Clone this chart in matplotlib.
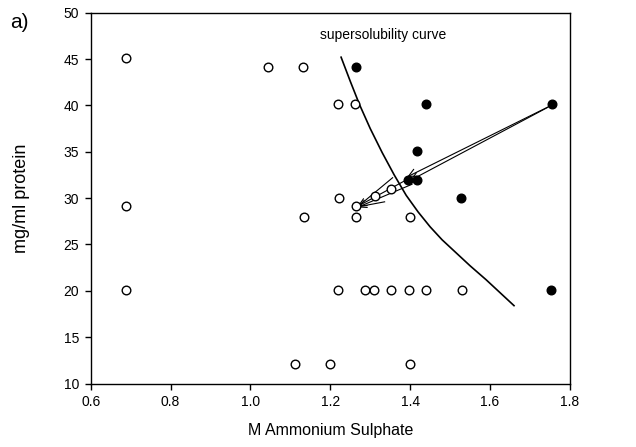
import matplotlib
matplotlib.use("Agg")
import matplotlib.pyplot as plt

plt.rcParams['font.family'] = ['Liberation Sans', 'DejaVu Sans']

# Open circles (clear drops)
open_x = [0.689, 0.689, 0.689, 1.044, 1.132, 1.219, 1.263, 1.221, 1.133, 1.265, 1.265, 1.399,
          1.219, 1.286, 1.309, 1.353, 1.397, 1.439, 1.529, 1.112, 1.198, 1.400, 1.311, 1.353]
open_y = [45.1, 29.1, 20.1, 44.1, 44.1, 40.1, 40.1, 30.0, 28.0, 29.1, 28.0, 28.0,
          20.1, 20.1, 20.1, 20.1, 20.1, 20.1, 20.1, 12.1, 12.1, 12.1, 30.2, 31.0]

# Filled circles (precipitate)
filled_x = [1.265, 1.440, 1.418, 1.394, 1.417, 1.528, 1.754, 1.753]
filled_y = [44.1, 40.1, 35.1, 32.0, 32.0, 30.0, 40.1, 20.1]

# Supersolubility curve
curve_x = [1.227, 1.250, 1.273, 1.300, 1.330, 1.360, 1.390, 1.405, 1.420, 1.435, 1.450,
           1.465, 1.480, 1.510, 1.550, 1.590, 1.625, 1.660]
curve_y = [45.2, 42.6, 40.1, 37.5, 34.9, 32.5, 30.3, 29.4, 28.5, 27.7, 26.9,
           26.2, 25.5, 24.3, 22.7, 21.2, 19.8, 18.4]

# Trajectory arrows (start -> end)
arrow_start = [(1.753, 40.0), (1.745, 39.8), (1.392, 32.0), (1.405, 31.5)]
arrow_end = [(1.393, 32.3), (1.400, 31.9), (1.268, 29.1), (1.268, 29.0)]
# extra strokes fanning from the final point
wing_start = [(1.268, 29.05), (1.268, 29.05)]
wing_end = [(1.356, 32.2), (1.336, 29.6)]

fig = plt.figure(figsize=(6.36, 4.47), dpi=100)
ax = fig.add_axes([0.1426, 0.142, 0.7535, 0.8296])

ax.plot(curve_x, curve_y, color='black', lw=1.2, zorder=2)

for (x0, y0), (x1, y1) in zip(arrow_start, arrow_end):
    ax.annotate('', xy=(x1, y1), xytext=(x0, y0),
                arrowprops=dict(arrowstyle='->', lw=0.8, color='black',
                                mutation_scale=14, shrinkA=0, shrinkB=0),
                zorder=3)
for (x0, y0), (x1, y1) in zip(wing_start, wing_end):
    ax.plot([x0, x1], [y0, y1], color='black', lw=0.8, zorder=3)

ax.plot(open_x, open_y, linestyle='none', marker='o', markersize=6.2,
        markerfacecolor='white', markeredgecolor='black', markeredgewidth=1.0, zorder=4)
ax.plot(filled_x, filled_y, linestyle='none', marker='o', markersize=6.2,
        markerfacecolor='black', markeredgecolor='black', markeredgewidth=1.0, zorder=4)

ax.text(1.173, 47.6, 'supersolubility curve', fontsize=10, ha='left', va='center')

ax.set_xlim(0.6, 1.8)
ax.set_ylim(10, 50)
ax.set_xticks([0.6, 0.8, 1.0, 1.2, 1.4, 1.6, 1.8])
ax.set_xticklabels(['0.6', '0.8', '1.0', '1.2', '1.4', '1.6', '1.8'])
ax.set_yticks([10, 15, 20, 25, 30, 35, 40, 45, 50])
ax.tick_params(direction='out', length=4.3, width=1.0, labelsize=10, pad=4)
for s in ax.spines.values():
    s.set_linewidth(1.0)

ax.set_xlabel('M Ammonium Sulphate', fontsize=11.5, labelpad=10)
ax.set_ylabel('mg/ml protein', fontsize=13, labelpad=24)

fig.text(0.016, 0.949, 'a)', fontsize=15, ha='left', va='center')

fig.savefig('out.png', dpi=100)
